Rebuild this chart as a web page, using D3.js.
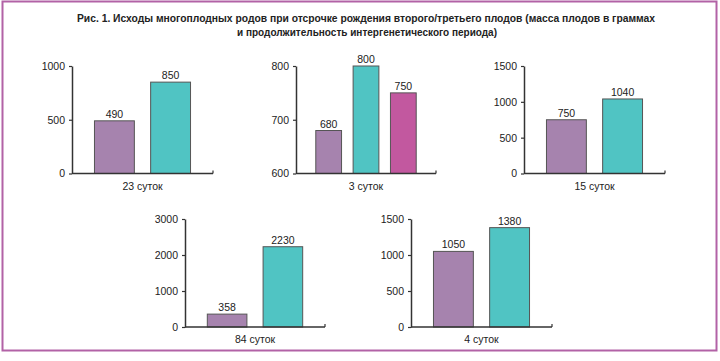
<!DOCTYPE html>
<html>
<head>
<meta charset="utf-8">
<script src="https://cdn.jsdelivr.net/npm/d3@7"></script>
<style>
  body { margin: 0; background: #fff; }
  text { font-family: "Liberation Sans", Arial, sans-serif; fill: #222; }
</style>
</head>
<body>
<div id="divChart"></div>
<script>
// данные
var titleLines = [
    "Рис. 1. Исходы многоплодных родов при отсрочке рождения второго/третьего плодов (масса плодов в граммах",
    "и продолжительность интергенетического периода)"
];
var categories = ["23 суток", "3 суток", "15 суток", "84 суток", "4 суток"];
var values1 = [490, 850];
var values2 = [680, 800, 750];
var values3 = [750, 1040];
var values4 = [358, 2230];
var values5 = [1050, 1380];
var domains = [[0, 1000], [600, 800], [0, 1500], [0, 3000], [0, 1500]];
var ticks1 = [0, 500, 1000];
var ticks2 = [600, 700, 800];
var ticks3 = [0, 500, 1000, 1500];
var ticks4 = [0, 1000, 2000, 3000];
var ticks5 = [0, 500, 1000, 1500];
var barColors = ["#a683ae", "#50c4c3", "#c2589f"];

function init()
{
    var width = 720, height = 361;
    var svg = d3.select("#divChart").append("svg")
        .attr("width", width)
        .attr("height", height);

    // рамка
    svg.append("rect")
        .attr("x", 2.5).attr("y", 1.5)
        .attr("width", 714).attr("height", 349)
        .style("fill", "none")
        .style("stroke", "#b262a6")
        .style("stroke-width", 2);

    // заголовок
    svg.append("text")
        .attr("x", 366).attr("y", 22)
        .attr("text-anchor", "middle")
        .attr("textLength", 578)
        .attr("lengthAdjust", "spacingAndGlyphs")
        .style("font-weight", "bold").style("font-size", "10.5px")
        .text(titleLines[0]);
    svg.append("text")
        .attr("x", 367).attr("y", 36)
        .attr("text-anchor", "middle")
        .attr("textLength", 260)
        .attr("lengthAdjust", "spacingAndGlyphs")
        .style("font-weight", "bold").style("font-size", "10.5px")
        .text(titleLines[1]);

    // расположение панелей
    var panels = [
        {x0: 72, x1: 213, top: 66, bottom: 173.5, values: values1, ticks: ticks1},
        {x0: 296, x1: 436, top: 66, bottom: 173.5, values: values2, ticks: ticks2},
        {x0: 524, x1: 665, top: 66, bottom: 173.5, values: values3, ticks: ticks3},
        {x0: 185, x1: 325, top: 219, bottom: 327, values: values4, ticks: ticks4},
        {x0: 411, x1: 552, top: 219, bottom: 327, values: values5, ticks: ticks5}
    ];

    panels.forEach(function(p, i)
    {
        var g = svg.append("g");
        var n = p.values.length;

        var scaleX = d3.scaleBand()
            .domain(d3.range(n))
            .range([p.x0, p.x1])
            .paddingInner(n == 3 ? 0.31 : 0.29)
            .paddingOuter(n == 3 ? 0.53 : 0.4);

        var scaleY = d3.scaleLinear()
            .domain(domains[i])
            .range([p.bottom, p.top]);

        // столбцы
        g.selectAll("rect.bar")
            .data(p.values)
            .enter().append("rect")
            .attr("class", "bar")
            .attr("x", function(d, j){ return scaleX(j); })
            .attr("y", function(d){ return scaleY(d); })
            .attr("width", scaleX.bandwidth())
            .attr("height", function(d){ return p.bottom - scaleY(d); })
            .style("fill", function(d, j){ return barColors[j]; })
            .style("stroke", "#555")
            .style("stroke-width", 1);

        // подписи значений
        g.selectAll("text.val")
            .data(p.values)
            .enter().append("text")
            .attr("class", "val")
            .attr("x", function(d, j){ return scaleX(j) + scaleX.bandwidth() / 2; })
            .attr("y", function(d){ return scaleY(d) - 3; })
            .attr("text-anchor", "middle")
            .style("font-size", "10.5px")
            .text(function(d){ return d; });

        // ось Y
        var yAxis = d3.axisLeft(scaleY)
            .tickValues(p.ticks)
            .tickFormat(d3.format("d"))
            .tickSize(3)
            .tickSizeOuter(0)
            .tickPadding(4);
        var ya = g.append("g")
            .attr("transform", "translate(" + p.x0 + ",0)")
            .call(yAxis);
        ya.select(".domain").style("stroke", "#333").style("stroke-width", 1.5);
        ya.selectAll(".tick line").style("stroke", "#333").style("stroke-width", 1.2);
        ya.selectAll(".tick text")
            .style("font-family", "Liberation Sans, Arial, sans-serif")
            .style("font-size", "10.5px")
            .style("fill", "#222");

        // ось X
        g.append("line")
            .attr("x1", p.x0).attr("x2", p.x1)
            .attr("y1", p.bottom).attr("y2", p.bottom)
            .style("stroke", "#333").style("stroke-width", 1.5);
        g.append("line")
            .attr("x1", p.x1).attr("x2", p.x1)
            .attr("y1", p.bottom).attr("y2", p.bottom - 3)
            .style("stroke", "#333").style("stroke-width", 1.2);

        // подпись категории
        g.append("text")
            .attr("x", (p.x0 + p.x1) / 2)
            .attr("y", p.bottom + 16)
            .attr("text-anchor", "middle")
            .style("font-size", "10.5px")
            .text(categories[i]);
    });
}

window.onload = init;
</script>
</body>
</html>
